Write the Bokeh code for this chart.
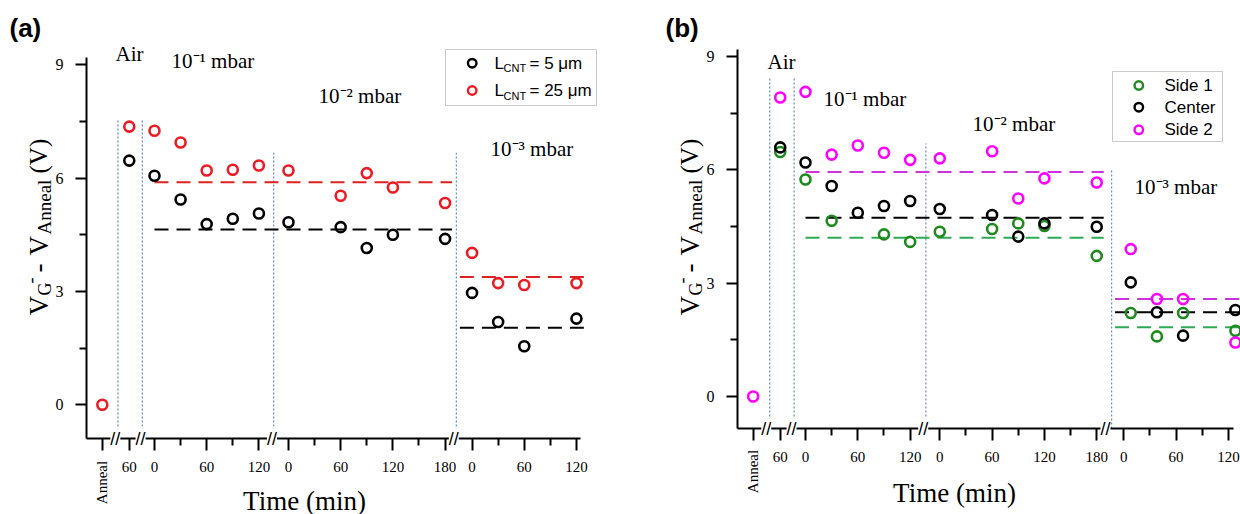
import math
from bokeh.plotting import figure
from bokeh.layouts import row
from bokeh.models import Range1d, FixedTicker, Label, BoxAnnotation, AllLabels
from bokeh.embed import file_html
from bokeh.resources import INLINE

NAN = float("nan")

# ---------------- data ----------------
# stage of each measurement point and its time inside that stage (min)
point_stage = ["Anneal", "Air"] + ["1e-1"] * 5 + ["1e-2"] * 5 + ["1e-3"] * 4

a_time = [0, 60, 0, 30, 60, 90, 120, 0, 60, 90, 120, 180, 0, 30, 60, 120]
a_lcnt5 = [NAN, 6.46, 6.06, 5.43, 4.78, 4.92, 5.06, 4.83, 4.70, 4.15, 4.50, 4.39, 2.96, 2.19, 1.55, 2.28]
a_lcnt25 = [0, 7.36, 7.25, 6.94, 6.20, 6.22, 6.33, 6.20, 5.53, 6.13, 5.75, 5.34, 4.02, 3.22, 3.17, 3.22]

b_time = [0, 60, 0, 30, 60, 90, 120, 0, 60, 90, 120, 180, 8, 38, 68, 128]
b_side1 = [NAN, 6.47, 5.74, 4.65, NAN, 4.29, 4.09, 4.36, 4.43, 4.58, 4.51, 3.72, 2.21, 1.59, 2.21, 1.74]
b_center = [NAN, 6.59, 6.19, 5.57, 4.86, 5.04, 5.17, 4.96, 4.80, 4.23, 4.58, 4.49, 3.02, 2.23, 1.61, 2.29]
b_side2 = [0, 7.91, 8.06, 6.40, 6.64, 6.45, 6.26, 6.30, 6.49, 5.24, 5.77, 5.66, 3.90, 2.58, 2.58, 1.43]

# average levels: [10^-1 & 10^-2 mbar, 10^-3 mbar]
a_avg_lcnt5 = [4.64, 2.04]
a_avg_lcnt25 = [5.89, 3.38]
b_avg_side1 = [4.20, 1.83]
b_avg_center = [4.73, 2.23]
b_avg_side2 = [5.94, 2.58]

# x tick labels
tick_stage = ["Anneal", "Air", "1e-1", "1e-1", "1e-1", "1e-2", "1e-2", "1e-2", "1e-2", "1e-3", "1e-3", "1e-3"]
tick_time = [0, 60, 0, 60, 120, 0, 60, 120, 180, 0, 60, 120]
tick_labels = ["Anneal", "60", "0", "60", "120", "0", "60", "120", "180", "0", "60", "120"]
minor_stage = ["1e-1", "1e-1", "1e-2", "1e-2", "1e-2", "1e-3", "1e-3"]
minor_time = [30, 90, 30, 90, 150, 30, 90]
y_ticks = [0, 3, 6, 9]
y_minor = [1.5, 4.5, 7.5]

stage_names = ["Air", "10\u207b\u00b9 mbar", "10\u207b\u00b2 mbar", "10\u207b\u00b3 mbar"]

# ---------------- layout (broken time axis) ----------------
STAGE_OFFSET = {"Anneal": -60, "Air": -89, "1e-1": 0, "1e-2": 154, "1e-3": 365}
BREAKS = [-45, -16, 135, 344]

SERIF = "Liberation Serif"
SANS = "Liberation Sans"
RED = "#ec1c24"
BLACK = "#000000"
GREEN = "#1e8a1e"
MAGENTA = "#ff00ff"
DOT = "#6f8fc8"


def pos(stage, t):
    return STAGE_OFFSET[stage] + t


def build(cfg, series, avgs, avg_spans, sep_x, sep_top, legend_rows, legend_box, stage_lbl, title):
    X0, KX, Y0, KY = cfg["X0"], cfg["KX"], cfg["Y0"], cfg["KY"]
    PX0 = cfg["page_left"]
    aL, aR, aT, aB = cfg["axes"]  # page px of y-axis x, x-axis end, y-axis top, x-axis y

    def fx(px):
        return (px - X0) / KX

    def fy(py):
        return (Y0 - py) / KY

    p = figure(width=620, height=514,
               x_range=Range1d(fx(PX0), fx(PX0 + 620)), y_range=Range1d(fy(514), fy(0)),
               output_backend="svg", toolbar_location=None, title=None,
               min_border_left=0, min_border_right=0, min_border_top=0, min_border_bottom=0)
    p.outline_line_color = None
    p.grid.visible = False
    p.background_fill_color = "white"
    p.border_fill_color = "white"

    # axes (drawn at fixed positions inside the canvas)
    xt = [pos(s, t) for s, t in zip(tick_stage, tick_time)]
    xm = [pos(s, t) for s, t in zip(minor_stage, minor_time)]
    p.xaxis.ticker = FixedTicker(ticks=xt, minor_ticks=xm)
    p.xaxis.major_label_overrides = {x: ("" if l == "Anneal" else l) for x, l in zip(xt, tick_labels)}
    p.xaxis.major_label_policy = AllLabels()
    p.xaxis.bounds = (fx(aL), fx(aR))
    p.xaxis.fixed_location = fy(aB)
    p.yaxis.ticker = FixedTicker(ticks=y_ticks, minor_ticks=y_minor)
    p.yaxis.bounds = (fy(aB), fy(aT))
    p.yaxis.fixed_location = fx(aL)
    for ax in (p.xaxis[0], p.yaxis[0]):
        ax.axis_line_width = 2
        ax.axis_line_color = "black"
        ax.major_tick_line_width = 2
        ax.minor_tick_line_width = 2
        ax.major_tick_line_color = "black"
        ax.minor_tick_line_color = "black"
        ax.major_tick_in = 0
        ax.minor_tick_in = 0
        ax.major_label_text_font = SERIF
        ax.major_label_text_color = "black"
    p.xaxis.major_tick_out = 12
    p.xaxis.minor_tick_out = 7
    p.xaxis.major_label_text_font_size = "15px"
    p.xaxis.major_label_standoff = 11
    p.yaxis.major_tick_out = 11
    p.yaxis.minor_tick_out = 7
    p.yaxis.major_label_text_font_size = "16px"
    p.yaxis.major_label_standoff = 12

    ybot = fy(aB)
    # separators between stages
    p.segment(x0=sep_x, y0=[ybot] * len(sep_x), x1=sep_x, y1=sep_top,
              line_color=DOT, line_width=1.3, line_dash="2 2")

    # average lines
    for levels, color in avgs:
        p.segment(x0=[s[0] for s in avg_spans], y0=levels, x1=[s[1] for s in avg_spans], y1=levels,
                  line_color=color, line_width=2, line_dash="14 8")

    # measurements
    for times, vals, color in series:
        xs = [pos(s, t) for s, t in zip(point_stage, times)]
        p.scatter(x=xs, y=vals, marker="circle", size=10, fill_color=None,
                  line_color=color, line_width=2.6)

    def lab(px, py, text, size, font=SERIF, align="left", angle=0,
            style="normal", bg=None, x_data=None):
        # (px, py): page pixel of the text's vertical middle
        p.add_layout(Label(x=fx(px) if x_data is None else x_data, y=fy(py),
                           text=text, text_font=font, text_font_size=f"{size}px",
                           text_align=align, text_baseline="middle", angle=angle,
                           text_font_style=style, text_color="black",
                           background_fill_color=bg))

    # axis breaks
    for b in BREAKS:
        p.add_layout(Label(x=b, y=ybot, text="//", text_font=SANS, text_font_size="18px",
                           text_align="center", text_baseline="middle", text_color="black",
                           background_fill_color="white"))

    # stage names
    for (px, py), name in zip(stage_lbl, stage_names):
        lab(px, py, name, 21)

    # legend
    bl, br, bt, bb = legend_box
    p.add_layout(BoxAnnotation(left=fx(bl), right=fx(br), top=fy(bt), bottom=fy(bb),
                               fill_color=None, line_color="#505050", line_width=1))
    mx, tx = cfg["legend_marker_x"], cfg["legend_text_x"]
    for (py, color, pieces) in legend_rows:
        p.scatter(x=[fx(mx)], y=[fy(py)], marker="circle", size=8.5, fill_color=None,
                  line_color=color, line_width=2.4)
        for (dx, dy, txt, sz) in pieces:
            lab(tx + dx, py + dy, txt, sz, font=SANS)

    # y axis title (rotated, with sub/superscripts); (size, x-middle offset, start y)
    for (txt, sz, bx, sy) in [("V", 27, -48, 315), ("G", 18, -42, 295), ("-", 18, -56, 283),
                              ("-", 27, -49, 272), ("V", 27, -48, 255), ("Anneal", 19, -42, 234),
                              ("(V)", 25, -48, 173)]:
        lab(aL + bx, sy, txt, sz, angle=math.pi / 2)

    # x axis title and rotated Anneal tick label
    lab(cfg["time_x"], cfg["time_y"], "Time (min)", 27, align="center")
    lab(0, cfg["anneal_y"], tick_labels[0], 15, align="center",
        angle=math.pi / 2, x_data=pos("Anneal", 0))

    # panel tag
    lab(cfg["tag_x"], 27, title, 26, font=SANS, style="bold")
    return p


cfg_a = dict(X0=154, KX=0.87, Y0=404.3, KY=37.8, page_left=0, axes=(86, 580, 57, 438),
             legend_marker_x=471.7, legend_text_x=494,
             time_x=304, time_y=500, anneal_y=482, tag_x=9)
cfg_b = dict(X0=805, KX=0.872, Y0=396, KY=37.8, page_left=620, axes=(737, 1233, 49, 428),
             legend_marker_x=1138.3, legend_text_x=1164,
             time_x=954, time_y=492, anneal_y=471, tag_x=665)

pa = build(cfg_a,
           series=[(a_time, a_lcnt5, BLACK), (a_time, a_lcnt25, RED)],
           avgs=[(a_avg_lcnt25, "#dd2222"), (a_avg_lcnt5, BLACK)],
           avg_spans=[(0, 342), (351, 501)],
           sep_x=[-42, -14, 137, 347], sep_top=[7.55, 7.55, 6.67, 6.67],
           legend_rows=[(62.7, BLACK, [(0, 0, "L", 17), (9, 5, "CNT", 11), (35, 0, "= 5 \u03bcm", 17)]),
                        (90.0, RED, [(0, 0, "L", 17), (9, 5, "CNT", 11), (35, 0, "= 25 \u03bcm", 17)])],
           legend_box=(445, 596, 49, 105),
           stage_lbl=[(115, 53), (171, 60), (318, 95), (490, 148)],
           title="(a)")

pb = build(cfg_b,
           series=[(b_time, b_side1, GREEN), (b_time, b_center, BLACK), (b_time, b_side2, MAGENTA)],
           avgs=[(b_avg_side2, "#cc33dd"), (b_avg_center, BLACK), (b_avg_side1, "#2eaa55")],
           avg_spans=[(0, 342), (355, 500)],
           sep_x=[-41, -13, 138, 351], sep_top=[8.41, 8.41, 6.69, 5.98],
           legend_rows=[(85.0, GREEN, [(0, 0, "Side 1", 17)]),
                        (106.7, BLACK, [(0, 0, "Center", 17)]),
                        (129.3, MAGENTA, [(0, 0, "Side 2", 17)])],
           legend_box=(1112, 1222, 71, 141),
           stage_lbl=[(767, 61), (823, 98), (972, 123), (1134, 186)],
           title="(b)")

layout = row(pa, pb)
open("out.html", "w").write(file_html(layout, INLINE))
